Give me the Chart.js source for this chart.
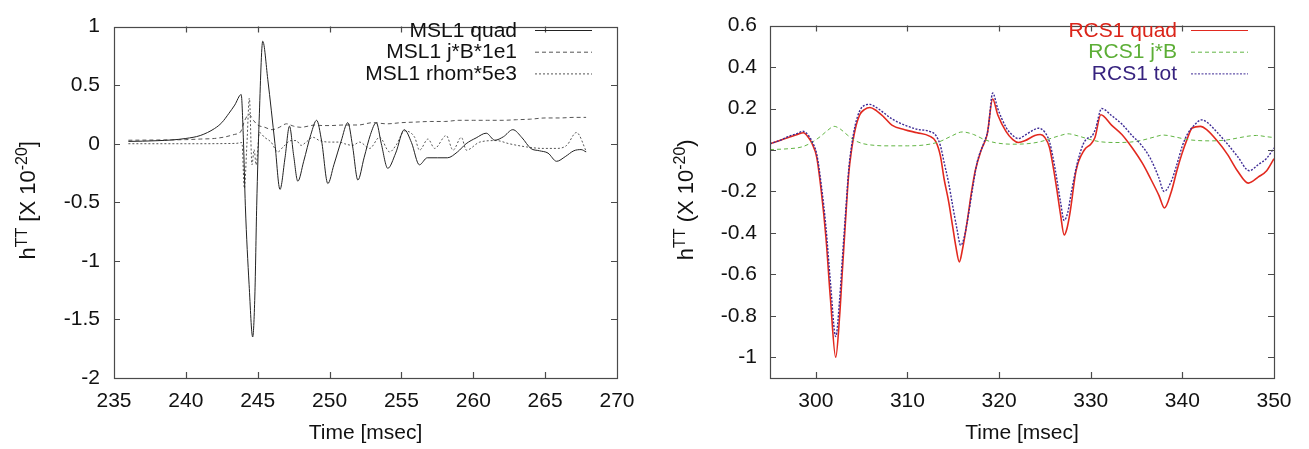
<!DOCTYPE html>
<html>
<head>
<meta charset="UTF-8">
<title>MSL1 / RCS1 waveforms</title>
<script src="https://cdn.jsdelivr.net/npm/chart.js"></script>
<style>
  html, body { margin: 0; padding: 0; background: #fff; }
  #wrap { position: relative; width: 1309px; height: 449px; }
  canvas { position: absolute; top: 0; }
  #msl { left: 0; }
  #rcs { left: 655px; }
</style>
</head>
<body>
<div id="wrap">
  <canvas id="msl" width="655" height="449"></canvas>
  <canvas id="rcs" width="654" height="449"></canvas>
</div>
<script>
// ---- left panel: MSL1 ----
const mslXTicks = [235, 240, 245, 250, 255, 260, 265, 270];
const mslYTicks = [-2, -1.5, -1, -0.5, 0, 0.5, 1];

const mslQuadT = [236, 237, 238, 239, 240, 241, 242, 242.5, 243, 243.4, 243.85, 244.0, 244.14, 244.4, 244.65, 244.8, 244.93, 245.1, 245.35, 245.7, 246.2, 246.55, 246.9, 247.21, 247.5, 247.79, 248.2, 248.7, 249.1, 249.45, 249.88, 250.3, 250.8, 251.27, 251.6, 251.97, 252.4, 252.85, 253.25, 253.6, 254.05, 254.6, 255.2, 255.7, 256.25, 256.8, 257.5, 258.2, 258.9, 259.5, 260.2, 260.9, 261.5, 262.1, 262.75, 263.4, 264.0, 264.6, 265.2, 265.8, 266.4, 267.0, 267.5, 267.85];
const mslQuadH = [0.02, 0.022, 0.026, 0.032, 0.045, 0.07, 0.13, 0.18, 0.26, 0.33, 0.42, 0.05, -0.53, -1.2, -1.65, -1.3, -0.53, 0.2, 0.875, 0.55, 0.0, -0.39, -0.12, 0.15, -0.1, -0.32, -0.15, 0.08, 0.2, 0.02, -0.34, -0.18, 0.02, 0.18, -0.02, -0.31, -0.12, 0.08, 0.18, 0.0, -0.21, -0.08, 0.12, 0.01, -0.18, -0.12, -0.12, -0.12, -0.07, 0.0, 0.05, 0.09, 0.03, 0.06, 0.12, 0.05, -0.04, -0.06, -0.08, -0.15, -0.11, -0.06, -0.05, -0.07];

const mslJbT = [236, 238, 240, 241, 242, 242.8, 243.4, 243.8, 244.1, 244.4, 244.7, 245.0, 245.5, 246.0, 246.5, 247.0, 247.5, 248.0, 248.5, 249.0, 249.5, 250.0, 251.0, 252.0, 253.0, 254.0, 255.0, 256.0, 257.0, 258.0, 259.0, 260.0, 261.0, 262.0, 263.0, 264.0, 265.0, 266.0, 267.0, 267.85];
const mslJbH = [0.03, 0.032, 0.035, 0.04, 0.045, 0.06, 0.08, 0.1, 0.2, 0.25, 0.2, 0.16, 0.14, 0.12, 0.14, 0.17, 0.15, 0.14, 0.15, 0.16, 0.155, 0.155, 0.16, 0.16, 0.18, 0.17, 0.18, 0.185, 0.19, 0.19, 0.2, 0.2, 0.2, 0.2, 0.205, 0.21, 0.22, 0.22, 0.225, 0.225];

const mslRhomT = [236, 240, 243.5, 243.9, 244.07, 244.25, 244.42, 244.6, 244.75, 244.89, 245.12, 245.47, 245.93, 246.4, 246.75, 247.33, 247.68, 248.02, 248.37, 248.84, 249.3, 250.0, 250.7, 251.04, 251.6, 252.09, 252.79, 253.48, 254.18, 254.64, 255.22, 255.92, 256.26, 256.85, 257.31, 258.12, 258.59, 259.17, 259.52, 260.45, 261.6, 262.5, 263.7, 264.86, 265.79, 266.5, 267.18, 267.88];
const mslRhomH = [0.0, 0.0, 0.003, 0.01, -0.38, 0.0, 0.39, -0.18, -0.05, -0.18, 0.096, 0.055, 0.014, -0.07, -0.03, 0.027, 0.027, -0.014, 0.014, 0.055, 0.027, 0.014, 0.014, 0.0, -0.014, 0.014, -0.04, 0.055, -0.07, -0.01, 0.11, 0.055, -0.055, 0.04, -0.04, 0.07, -0.055, 0.055, -0.055, 0.014, 0.027, 0.0, -0.027, -0.04, -0.04, -0.014, 0.096, -0.07];

// ---- right panel: RCS1 ----
const rcsXTicks = [300, 310, 320, 330, 340, 350];
const rcsYTicks = [-1, -0.8, -0.6, -0.4, -0.2, 0, 0.2, 0.4, 0.6];

const rcsQuadT = [295, 296, 297, 298, 298.65, 299.2, 299.6, 300.1, 300.6, 301.1, 301.6, 302.17, 302.6, 302.9, 303.3, 303.6, 303.9, 304.3, 304.8, 305.3, 305.9, 306.6, 307.4, 308.3, 309.7, 311.05, 312.4, 313.1, 313.6, 314.0, 314.5, 314.9, 315.3, 315.66, 316.0, 316.5, 317.0, 317.4, 318.05, 318.7, 319.3, 319.85, 320.75, 321.5, 322.1, 322.8, 323.9, 324.5, 325.0, 325.5, 325.9, 326.3, 326.7, 327.1, 327.4, 327.75, 328.4, 329.3, 330.0, 330.46, 331.1, 332.27, 333.4, 334.5, 335.65, 336.55, 337.45, 338.04, 338.8, 339.4, 339.94, 340.5, 341.07, 341.97, 342.65, 343.8, 344.9, 346.0, 347.2, 348.3, 349.2, 350];
const rcsQuadH = [0.03, 0.045, 0.06, 0.075, 0.083, 0.06, 0.03, -0.035, -0.2, -0.42, -0.72, -1.0, -0.8, -0.58, -0.3, -0.11, 0.0, 0.1, 0.17, 0.195, 0.205, 0.19, 0.16, 0.12, 0.098, 0.083, 0.067, 0.04, -0.03, -0.14, -0.25, -0.36, -0.47, -0.54, -0.48, -0.35, -0.2, -0.1, 0.0, 0.075, 0.246, 0.17, 0.09, 0.05, 0.036, 0.044, 0.07, 0.075, 0.06, 0.012, -0.08, -0.19, -0.31, -0.41, -0.38, -0.3, -0.1, 0.0, 0.028, 0.06, 0.17, 0.12, 0.075, 0.012, -0.065, -0.14, -0.22, -0.28, -0.2, -0.1, -0.02, 0.05, 0.106, 0.114, 0.098, 0.044, -0.02, -0.1, -0.16, -0.13, -0.1, -0.042];

const rcsJbT = [295, 297, 298.5, 299.5, 300.5, 301.3, 302.0, 302.7, 303.5, 304.3, 305.2, 306.5, 307.4, 310, 312, 313.5, 314.7, 316.0, 317.2, 318.4, 319.6, 321.4, 323, 324.5, 325.8, 326.7, 327.5, 328.6, 329.8, 331, 332.7, 334.3, 335.7, 336.9, 337.9, 339.3, 340.6, 343.1, 344.8, 346.3, 347.4, 348.1, 349.2, 350];
const rcsJbH = [0.002, 0.006, 0.015, 0.035, 0.065, 0.095, 0.114, 0.1, 0.07, 0.045, 0.03, 0.022, 0.02, 0.02, 0.025, 0.04, 0.065, 0.087, 0.075, 0.05, 0.035, 0.028, 0.03, 0.04, 0.058, 0.07, 0.078, 0.068, 0.052, 0.04, 0.036, 0.038, 0.048, 0.062, 0.072, 0.062, 0.05, 0.044, 0.048, 0.06, 0.068, 0.07, 0.064, 0.06];

const rcsTotT = [295, 296, 297, 298, 298.6, 299.2, 299.6, 300.1, 300.6, 301.1, 301.6, 302.17, 302.6, 302.9, 303.3, 303.6, 303.9, 304.3, 304.8, 305.3, 305.9, 306.6, 307.4, 308.3, 309.7, 311.05, 312.4, 313.1, 313.6, 314.0, 314.5, 314.9, 315.4, 315.8, 316.2, 316.7, 317.2, 317.6, 318.3, 318.8, 319.3, 319.85, 320.75, 321.5, 322.1, 322.8, 323.5, 324.3, 325.0, 325.5, 325.9, 326.3, 326.7, 327.1, 327.5, 327.9, 328.5, 329.2, 329.8, 330.1, 330.5, 331.2, 332.3, 333.4, 334.5, 335.5, 336.5, 337.4, 338.0, 338.8, 339.4, 340.0, 340.6, 341.2, 342.1, 342.8, 343.8, 344.9, 346.0, 347.3, 348.3, 349.2, 350];
const rcsTotH = [0.03, 0.045, 0.065, 0.08, 0.09, 0.07, 0.04, -0.02, -0.17, -0.37, -0.64, -0.9, -0.72, -0.52, -0.27, -0.09, 0.02, 0.12, 0.19, 0.215, 0.22, 0.205, 0.18, 0.15, 0.12, 0.1, 0.09, 0.07, 0.02, -0.06, -0.16, -0.26, -0.38, -0.46, -0.42, -0.3, -0.16, -0.06, 0.03, 0.1, 0.275, 0.2, 0.11, 0.07, 0.055, 0.07, 0.09, 0.105, 0.085, 0.04, -0.04, -0.14, -0.25, -0.34, -0.3, -0.2, -0.07, 0.03, 0.06, 0.065, 0.1, 0.2, 0.165, 0.125, 0.07, 0.025, -0.04, -0.13, -0.2, -0.15, -0.07, 0.02, 0.08, 0.115, 0.145, 0.13, 0.085, 0.03, -0.03, -0.1, -0.07, -0.04, 0.01];

const FONT = "'Liberation Sans', Arial, Helvetica, sans-serif";
const pts = (ts, hs) => ts.map((t, i) => ({ x: t, y: hs[i] }));
const plain = v => String(+Number(v).toFixed(2));

// gnuplot-like frame, inward ticks, legend and y title with superscripts
const gnuplotLook = {
  id: 'gnuplotLook',
  afterDraw(chart, args, o) {
    const { ctx, chartArea: a, scales: { x, y } } = chart;
    ctx.save();
    ctx.strokeStyle = '#4a4a4a';
    ctx.lineWidth = 1.2;
    ctx.strokeRect(Math.round(a.left) + 0.5, Math.round(a.top) + 0.5,
      Math.round(a.right - a.left), Math.round(a.bottom - a.top));
    const tl = 6;
    ctx.beginPath();
    x.ticks.forEach(t => {
      const px = Math.round(x.getPixelForValue(t.value)) + 0.5;
      if (px < a.left + 2 || px > a.right - 2) return;
      ctx.moveTo(px, a.bottom); ctx.lineTo(px, a.bottom - tl);
      ctx.moveTo(px, a.top); ctx.lineTo(px, a.top + tl);
    });
    y.ticks.forEach(t => {
      const py = Math.round(y.getPixelForValue(t.value)) + 0.5;
      if (py < a.top + 2 || py > a.bottom - 2) return;
      ctx.moveTo(a.left, py); ctx.lineTo(a.left + tl, py);
      ctx.moveTo(a.right, py); ctx.lineTo(a.right - tl, py);
    });
    ctx.stroke();

    // legend
    ctx.font = '21px ' + FONT;
    ctx.textAlign = 'right';
    ctx.textBaseline = 'middle';
    chart.data.datasets.forEach((ds, i) => {
      const yy = o.legendTop + i * o.legendStep;
      ctx.fillStyle = o.textColors[i];
      ctx.fillText(ds.label, o.textRight, yy + 1);
      ctx.strokeStyle = ds.borderColor;
      ctx.lineWidth = 1;
      ctx.setLineDash(ds.borderDash || []);
      ctx.beginPath();
      ctx.moveTo(o.lineFrom, yy + 0.5);
      ctx.lineTo(o.lineTo, yy + 0.5);
      ctx.stroke();
    });
    ctx.setLineDash([]);

    // rotated y title
    const parts = o.title;
    const fontOf = p => (p.sup ? '16px ' : '22px ') + FONT;
    let w = 0;
    parts.forEach(p => { ctx.font = fontOf(p); w += ctx.measureText(p.t).width; });
    ctx.translate(o.titleX, (a.top + a.bottom) / 2 - 2);
    ctx.rotate(-Math.PI / 2);
    ctx.textAlign = 'left';
    ctx.textBaseline = 'alphabetic';
    ctx.fillStyle = '#111';
    let cx = -w / 2;
    parts.forEach(p => {
      ctx.font = fontOf(p);
      ctx.fillText(p.t, cx, p.sup ? -8 : 0);
      cx += ctx.measureText(p.t).width;
    });
    ctx.restore();
  }
};

function makeChart(id, datasets, cfg) {
  return new Chart(document.getElementById(id), {
    type: 'line',
    data: { datasets },
    plugins: [gnuplotLook],
    options: {
      responsive: false,
      animation: false,
      layout: { padding: { top: 13, right: cfg.padRight, left: 0, bottom: 0 } },
      elements: { point: { radius: 0 }, line: { cubicInterpolationMode: 'monotone' } },
      plugins: {
        legend: { display: false },
        tooltip: { enabled: false },
        gnuplotLook: cfg.look
      },
      scales: {
        x: {
          type: 'linear',
          min: cfg.xMin, max: cfg.xMax,
          afterBuildTicks: s => { s.ticks = cfg.xTicks.map(v => ({ value: v })); },
          afterFit: s => { s.height = 71; },
          grid: { display: false, drawTicks: false },
          border: { display: false },
          ticks: { padding: 11, color: '#111', font: { family: FONT, size: 21 }, maxRotation: 0, callback: plain },
          title: { display: true, text: 'Time [msec]', color: '#111', font: { family: FONT, size: 21 }, padding: { top: 0, bottom: 3 } }
        },
        y: {
          type: 'linear',
          min: cfg.yMin, max: cfg.yMax,
          afterBuildTicks: s => { s.ticks = cfg.yTicks.map(v => ({ value: v })); },
          afterFit: s => { s.width = cfg.yWidth; },
          grid: { display: false, drawTicks: false },
          border: { display: false },
          ticks: { padding: cfg.yPad, color: '#111', font: { family: FONT, size: 21 }, callback: plain }
        }
      }
    }
  });
}

makeChart('msl', [
  { label: 'MSL1 quad', data: pts(mslQuadT, mslQuadH), borderColor: '#222', borderWidth: 1, order: 0 },
  { label: 'MSL1 j*B*1e1', data: pts(mslJbT, mslJbH), borderColor: '#555', borderWidth: 1, borderDash: [4, 3], order: 1 },
  { label: 'MSL1 rhom*5e3', data: pts(mslRhomT, mslRhomH), borderColor: '#555', borderWidth: 1, borderDash: [2, 2], order: 2 }
], {
  xMin: 235, xMax: 270, yMin: -2, yMax: 1,
  xTicks: mslXTicks, yTicks: mslYTicks,
  padRight: 38, yWidth: 114, yPad: 14,
  look: {
    textColors: ['#111', '#111', '#111'],
    legendTop: 30, legendStep: 21.7, textRight: 517, lineFrom: 535, lineTo: 592,
    titleX: 35,
    title: [{ t: 'h' }, { t: 'TT', sup: true }, { t: ' [X 10' }, { t: '-20', sup: true }, { t: ']' }]
  }
});

makeChart('rcs', [
  { label: 'RCS1 quad', data: pts(rcsQuadT, rcsQuadH), borderColor: '#e2291f', borderWidth: 1.6, order: 2 },
  { label: 'RCS1 j*B', data: pts(rcsJbT, rcsJbH), borderColor: '#62b544', borderWidth: 1, borderDash: [4, 3], order: 1 },
  { label: 'RCS1 tot', data: pts(rcsTotT, rcsTotH), borderColor: '#3d2a94', borderWidth: 1.4, borderDash: [2, 1.5], order: 0 }
], {
  xMin: 295, xMax: 350, yMin: -1.1, yMax: 0.6,
  xTicks: rcsXTicks, yTicks: rcsYTicks,
  padRight: 35, yWidth: 115, yPad: 13,
  look: {
    textColors: ['#db2419', '#5cae36', '#37237f'],
    legendTop: 30, legendStep: 21.7, textRight: 522, lineFrom: 536, lineTo: 593,
    titleX: 38,
    title: [{ t: 'h' }, { t: 'TT', sup: true }, { t: ' (X 10' }, { t: '-20', sup: true }, { t: ')' }]
  }
});
</script>
</body>
</html>
